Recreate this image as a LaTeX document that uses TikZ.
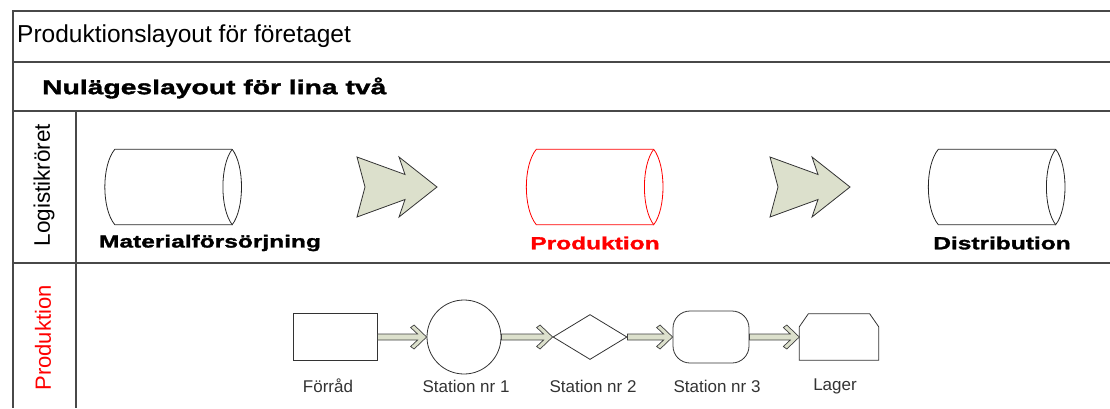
\documentclass[tikz,border=0pt]{standalone}
\usepackage{fontspec}
\setmainfont{Liberation Sans}
\newfontfamily\heavyfont{Liberation Sans}[FakeStretch=1.4, FakeBold=1.6]
\usepackage{xcolor}
\usetikzlibrary{calc, positioning, shapes.geometric, shapes.misc}

\definecolor{arrowfill}{HTML}{DCE0CC}
\definecolor{framegray}{HTML}{484848}
\definecolor{prodred}{HTML}{FF0000}

% thick flow arrow between two named nodes
\newcommand{\flowarrow}[2]{%
	\filldraw [flow] ($(#1.east) + (0,-3)$) -- ($(#2.west) + (-9,-3)$) -- ($(#2.west) + (-16,-9.5)$)
		-- ($(#2.west) + (-12.5,-12)$) -- (#2.west) -- ($(#2.west) + (-12.5,12)$)
		-- ($(#2.west) + (-16,9.5)$) -- ($(#2.west) + (-9,3)$) -- ($(#1.east) + (0,3)$) -- cycle;
}
% cylinder lying on its side, drawn round a named node
\newcommand{\tube}[2]{%
	\draw [tubeline, #2] (#1.north east) -- (#1.north west)
		.. controls ($(#1.north west) + (-13.3,16)$) and ($(#1.south west) + (-13.3,-16)$) .. (#1.south west)
		-- (#1.south east);
	\draw [tubeline, #2] (#1.north east)
		.. controls ($(#1.north east) + (12.4,16)$) and ($(#1.south east) + (12.4,-16)$) .. (#1.south east)
		.. controls ($(#1.south east) + (-12.4,-16)$) and ($(#1.north east) + (-12.4,16)$) .. (#1.north east);
}

\begin{document}
\begin{tikzpicture}[x=1pt, y=-1pt,
		frameline/.style = {draw=framegray, line width=2pt},
		tubebody/.style = {inner sep=0pt, minimum width=117pt, minimum height=75pt},
		tubeline/.style = {draw=black!85, line width=0.8pt},
		bigarrow/.style = {fill=arrowfill, draw=black!80, line width=0.8pt, line join=miter},
		station/.style = {draw=black!80, line width=0.8pt, inner sep=0pt},
		flow/.style = {fill=arrowfill, draw=black!75, line width=0.7pt, line join=miter},
		stationlabel/.style = {text=black!80, font=\fontsize{17}{20}\selectfont},
		tubelabel/.style = {inner sep=0pt, font=\heavyfont\bfseries\fontsize{17.5}{20}\selectfont}
	]
		\useasboundingbox (0,0) rectangle (1110,408);
		
		% frame of the chart
		\draw [frameline] (1110,11) -- (13,11) -- (13,408);
		\foreach \y in {62, 111, 263}
			\draw [frameline] (13,\y) -- (1110,\y);
		\draw [frameline] (76,111) -- (76,408);
		
		\node (title) [anchor=west, inner sep=0pt, font=\fontsize{24.5}{28}\selectfont] at (17,36) {Produktionslayout för företaget};
		\node (heading) [anchor=west, inner sep=0pt, font=\heavyfont\bfseries\fontsize{20.2}{24}\selectfont] at (42,88) {Nulägeslayout för lina två};
		
		\node (lane log) [rotate=90, inner sep=0pt, font=\fontsize{22.5}{26}\selectfont] at (44,185) {Logistikröret};
		\node (lane prod) [rotate=90, inner sep=0pt, text=prodred, font=\fontsize{22}{26}\selectfont] at (43,338) {Produktion};
		
		% logistics lane
		\node (material) [tubebody] at (173.5,187) {};
		\node (produktion) [tubebody] at (595,187) {};
		\node (distribution) [tubebody] at (997,187) {};
		\tube{material}{}
		\tube{produktion}{draw=prodred}
		\tube{distribution}{}
		
		\node (material label) [tubelabel] at (210,243) {Materialförsörjning};
		\node (produktion label) [tubelabel, text=prodred] at (595,243) {Produktion};
		\node (distribution label) [tubelabel] at (1002,243) {Distribution};
		
		\coordinate (arrow one tip) at (437,187);
		\coordinate (arrow two tip) at (850,187);
		\foreach \t in {arrow one tip, arrow two tip}
			\filldraw [bigarrow, shift={(\t)}] (-80,-30) -- (-32,-12.5) -- (-38,-30) -- (0,0) -- (-38,30) -- (-32,12.5) -- (-80,30) -- (-72,0) -- cycle;
		
		% production lane
		\node (forrad) [station, rectangle, minimum width=84pt, minimum height=47pt] at (335,337) {};
		\node (station one) [station, circle, minimum size=74pt] at (464,337) {};
		\node (station two) [station, diamond, minimum width=74pt, minimum height=45pt] at (590,337) {};
		\node (station three) [station, rectangle, rounded corners=17pt, minimum width=76pt, minimum height=52pt] at (711,337) {};
		\node (lager) [inner sep=0pt, minimum width=79pt, minimum height=46pt] at (839,337) {};
		\draw [station] (lager.south west) -- ($(lager.north west) + (0,13)$) -- ($(lager.north west) + (9,0)$)
			-- ($(lager.north east) + (-9,0)$) -- ($(lager.north east) + (0,13)$) -- (lager.south east) -- cycle;
		
		\flowarrow{forrad}{station one}
		\flowarrow{station one}{station two}
		\flowarrow{station two}{station three}
		\flowarrow{station three}{lager}
		
		\node (forrad label) [stationlabel] at (328,386) {Förråd};
		\node (station one label) [stationlabel] at (466,386) {Station nr 1};
		\node (station two label) [stationlabel] at (593,386) {Station nr 2};
		\node (station three label) [stationlabel] at (717,386) {Station nr 3};
		\node (lager label) [stationlabel] at (835,386) {Lager};
	\end{tikzpicture}
\end{document}
